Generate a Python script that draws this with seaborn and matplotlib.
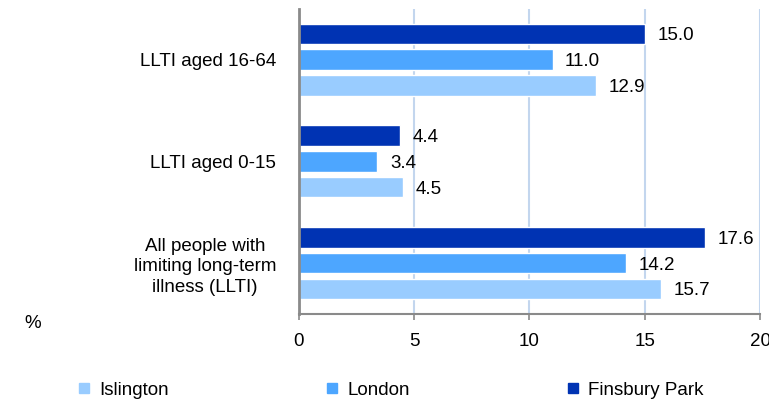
import pandas as pd
import matplotlib.pyplot as plt
import seaborn as sns
from matplotlib.lines import Line2D

# Chart data
categories = ['LLTI aged 16-64', 'LLTI aged 0-15',
              'All people with\nlimiting long-term\nillness (LLTI)']
areas = ['Finsbury Park', 'London', 'Islington']
finsbury = [15.0, 4.4, 17.6]
london = [11.0, 3.4, 14.2]
islington = [12.9, 4.5, 15.7]
x_ticks = [0, 5, 10, 15, 20]

colors = {'Islington': '#99CCFF', 'London': '#4DA6FF', 'Finsbury Park': '#0033B3'}

df = pd.DataFrame({
    'category': categories * 3,
    'area': ['Finsbury Park'] * 3 + ['London'] * 3 + ['Islington'] * 3,
    'value': finsbury + london + islington,
})

sns.set_style('white')
plt.rcParams['font.family'] = ['Liberation Sans', 'DejaVu Sans']
plt.rcParams['text.color'] = 'black'
plt.rcParams['xtick.labelcolor'] = 'black'
plt.rcParams['ytick.labelcolor'] = 'black'
fs = 13.5

fig = plt.figure(figsize=(7.69, 3.99), dpi=100)
ax = fig.add_axes([0.3888, 0.213, 0.5995, 0.765])

sns.barplot(data=df, y='category', x='value', hue='area', hue_order=areas,
            order=categories, palette=colors, orient='h', width=0.76, gap=0.2,
            saturation=1, legend=False, ax=ax)

# value labels, nudged down a little so the digits sit centred on the bars
for cont in ax.containers:
    for t in ax.bar_label(cont, fmt='%.1f', padding=9, fontsize=fs, color='black'):
        t.xyann = (t.xyann[0], t.xyann[1] - 1.5)

ax.set_xlim(0, 20)
ax.set_xticks(x_ticks)
ax.set_xlabel('')
ax.set_ylabel('')
ax.grid(axis='x', color='#C3D6EE', linewidth=1.5)
ax.set_axisbelow(True)
for s in ['top', 'right']:
    ax.spines[s].set_visible(False)
ax.spines['left'].set_color('#8A8A8A')
ax.spines['left'].set_linewidth(2)
ax.spines['bottom'].set_color('#8A8A8A')
ax.spines['bottom'].set_linewidth(1.5)
ax.tick_params(axis='x', bottom=True, length=4, width=1.2, color='#8A8A8A',
               labelsize=fs, labelcolor='black', pad=10)
ax.tick_params(axis='y', left=False, labelsize=fs, labelcolor='black', pad=13)
for lab in ax.get_yticklabels():
    lab.set_multialignment('center')
    lab.set_linespacing(1.25)

fig.text(24 / 769, 1 - 324 / 399, '%', fontsize=fs, ha='left', va='center')

legend_order = ['Islington', 'London', 'Finsbury Park']
handles = [Line2D([], [], marker='s', linestyle='none', markersize=7.5,
                  markerfacecolor=colors[a], markeredgecolor=colors[a])
           for a in legend_order]
fig.legend(handles, legend_order, loc='center', ncol=3, frameon=False,
           fontsize=fs, bbox_to_anchor=(391 / 769, 1 - 390 / 399),
           handlelength=0.6, handletextpad=0.5, columnspacing=8.4)

plt.savefig('out.png', dpi=100)
